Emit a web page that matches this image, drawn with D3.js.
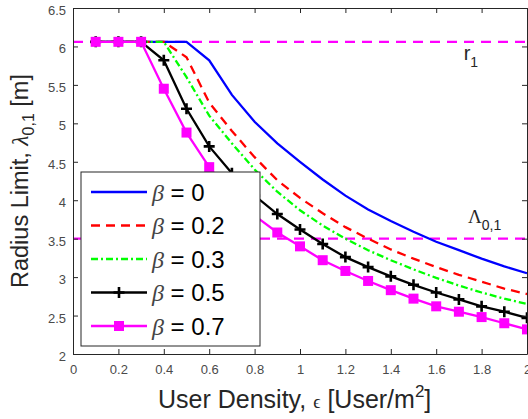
<!DOCTYPE html>
<html>
<head>
<meta charset="utf-8">
<script src="https://cdn.jsdelivr.net/npm/d3@7"></script>
<style>
  body { margin: 0; background: #fff; }
  svg { display: block; font-family: "Liberation Sans", Arial, sans-serif; }
</style>
</head>
<body>
<div id="container"></div>
<script>
    // data
    let eps = [0.1,0.2,0.3,0.4,0.5,0.6,0.7,0.8,0.9,1.0,1.1,1.2,1.3,1.4,1.5,1.6,1.7,1.8,1.9,2.0];
    let beta0  = [6.06,6.06,6.06,6.06,6.06,5.82,5.37,5.02,4.74,4.50,4.27,4.06,3.88,3.73,3.59,3.46,3.35,3.24,3.14,3.05];
    let beta02 = [6.06,6.06,6.06,6.06,5.86,5.27,4.90,4.56,4.26,4.03,3.83,3.65,3.50,3.36,3.24,3.13,3.03,2.94,2.85,2.78];
    let beta03 = [6.06,6.06,6.06,6.06,5.60,5.10,4.74,4.40,4.11,3.87,3.67,3.50,3.35,3.22,3.10,2.99,2.89,2.80,2.72,2.65];
    let beta05 = [6.06,6.06,6.06,5.82,5.19,4.70,4.35,4.06,3.82,3.62,3.43,3.26,3.13,3.01,2.90,2.80,2.71,2.62,2.55,2.47];
    let beta07 = [6.06,6.06,6.06,5.45,4.88,4.43,4.07,3.80,3.58,3.40,3.22,3.08,2.95,2.83,2.72,2.62,2.55,2.48,2.40,2.32];
    let r1 = 6.06;
    let lambda01 = 3.5;
    let xTicks = [0,0.2,0.4,0.6,0.8,1,1.2,1.4,1.6,1.8,2];
    let yTicks = [2,2.5,3,3.5,4,4.5,5,5.5,6,6.5];
    let legendLabels = ['0', '0.2', '0.3', '0.5', '0.7'];

    let svgAttr = {width:528, height:419};
    let marge = {top:8, bottom:65, left:73, right:1};
    let w = svgAttr.width - marge.left - marge.right;
    let h = svgAttr.height - marge.top - marge.bottom;
    let axisColor = '#262626';

    let series = [
        {vals: beta0,  color: '#0000ff', dash: null,        marker: null},
        {vals: beta02, color: '#ff0000', dash: '9,6',       marker: null},
        {vals: beta03, color: '#00ff00', dash: '7,3,2,3',   marker: null},
        {vals: beta05, color: '#000000', dash: null,        marker: 'plus'},
        {vals: beta07, color: '#ff00ff', dash: null,        marker: 'square'}
    ];

    let svg = d3.select('#container').append('svg').attr('width', svgAttr.width).attr('height', svgAttr.height);
    let g = svg.append('g').attr('transform', 'translate('+marge.left+','+marge.top+')');

    let xScale = d3.scaleLinear().domain([0, 2]).range([0, w]);
    let yScale = d3.scaleLinear().domain([2, 6.5]).range([h, 0]);

    // reference lines r1 and Lambda_{0,1}
    [r1, lambda01].forEach(function (v) {
        g.append('line').attr('x1', xScale(0)).attr('x2', xScale(2))
            .attr('y1', yScale(v)).attr('y2', yScale(v))
            .attr('stroke', '#ff00ff').attr('stroke-width', 2.3).attr('stroke-dasharray', '10,7');
    });

    let line = d3.line().x(function (d, i) { return xScale(eps[i]); }).y(function (d) { return yScale(d); });

    function drawMarker(sel, type, color) {
        if (type === 'plus') {
            sel.append('path').attr('d', 'M-5.5,0H5.5M0,-5.5V5.5').attr('stroke', color).attr('stroke-width', 2.6).attr('fill', 'none');
        } else if (type === 'square') {
            sel.append('rect').attr('x', -4).attr('y', -4).attr('width', 8).attr('height', 8)
                .attr('fill', color).attr('stroke', color).attr('stroke-width', 2);
        }
    }

    series.forEach(function (s) {
        g.append('path').datum(s.vals).attr('d', line).attr('fill', 'none')
            .attr('stroke', s.color).attr('stroke-width', 2.3)
            .attr('stroke-dasharray', s.dash);
        if (s.marker) {
            g.selectAll(null).data(s.vals).enter().append('g')
                .attr('transform', function (d, i) { return 'translate('+xScale(eps[i])+','+yScale(d)+')'; })
                .each(function () { drawMarker(d3.select(this), s.marker, s.color); });
        }
    });

    // axes, box style with inward ticks
    let xAxis = g.append('g').attr('transform', 'translate(0,'+h+')')
        .call(d3.axisBottom(xScale).tickValues(xTicks).tickFormat(d3.format('')).tickSizeInner(-5).tickSizeOuter(0).tickPadding(11));
    let yAxis = g.append('g')
        .call(d3.axisLeft(yScale).tickValues(yTicks).tickFormat(d3.format('')).tickSizeInner(-5).tickSizeOuter(0).tickPadding(7));
    let xTop = g.append('g')
        .call(d3.axisTop(xScale).tickValues(xTicks).tickFormat('').tickSizeInner(-5).tickSizeOuter(0));
    let yRight = g.append('g').attr('transform', 'translate('+w+',0)')
        .call(d3.axisRight(yScale).tickValues(yTicks).tickFormat('').tickSizeInner(-5).tickSizeOuter(0));
    [xAxis, yAxis, xTop, yRight].forEach(function (a) {
        a.selectAll('path, line').attr('stroke', axisColor);
        a.selectAll('text').attr('fill', '#4a4a4a').attr('font-size', '13px').attr('font-family', '"Liberation Sans", Arial, sans-serif');
    });
    yAxis.selectAll('text').attr('dy', '0.5em');

    // legend
    let leg = g.append('g').attr('transform', 'translate(8,164)');
    leg.append('rect').attr('width', 179).attr('height', 174).attr('fill', '#fff').attr('stroke', axisColor).attr('stroke-width', 1);
    series.forEach(function (s, i) {
        let row = leg.append('g').attr('transform', 'translate(0,'+(20 + i*33.5)+')');
        row.append('line').attr('x1', 10).attr('x2', 66).attr('y1', 0).attr('y2', 0)
            .attr('stroke', s.color).attr('stroke-width', 2.3).attr('stroke-dasharray', s.dash);
        if (s.marker) {
            drawMarker(row.append('g').attr('transform', 'translate(38,0)'), s.marker, s.color);
        }
        let t = row.append('text').attr('x', 71).attr('y', 8.5).attr('font-size', '24px').attr('fill', '#000');
        t.append('tspan').attr('font-family', '"Liberation Serif", serif').attr('font-style', 'italic').attr('fill', '#444').text('β');
        t.append('tspan').text(' = ' + legendLabels[i]);
    });

    // curve annotations
    let rt = g.append('text').attr('x', xScale(1.721)).attr('y', yScale(5.83)).attr('font-size', '20px').attr('fill', axisColor);
    rt.append('tspan').text('r');
    rt.append('tspan').attr('font-size', '14px').attr('dy', 7).text('1');

    let lt = g.append('text').attr('x', xScale(1.74)).attr('y', yScale(3.71)).attr('font-size', '19px').attr('fill', axisColor);
    lt.append('tspan').attr('font-family', '"Liberation Serif", serif').text('Λ');
    lt.append('tspan').attr('font-size', '14px').attr('dy', 7).text('0,1');

    // axis labels
    let xl = svg.append('text').attr('x', 158).attr('y', 408).attr('font-size', '25px').attr('fill', axisColor);
    xl.append('tspan').text('User Density, ');
    xl.append('tspan').attr('font-family', '"Liberation Serif", serif').attr('font-size', '18px').text('ϵ');
    xl.append('tspan').text(' [User/m');
    xl.append('tspan').attr('font-size', '17px').attr('dy', -11).text('2');
    xl.append('tspan').attr('dy', 11).text(']');

    let yl = svg.append('text').attr('transform', 'translate(28,288) rotate(-90)').attr('font-size', '23.5px').attr('fill', axisColor);
    yl.append('tspan').text('Radius Limit, ');
    yl.append('tspan').attr('font-family', '"Liberation Serif", serif').attr('font-style', 'italic').text('λ');
    yl.append('tspan').attr('font-size', '16px').attr('dy', 6).text('0,1');
    yl.append('tspan').attr('dy', -6).text(' [m]');
</script>
</body>
</html>
